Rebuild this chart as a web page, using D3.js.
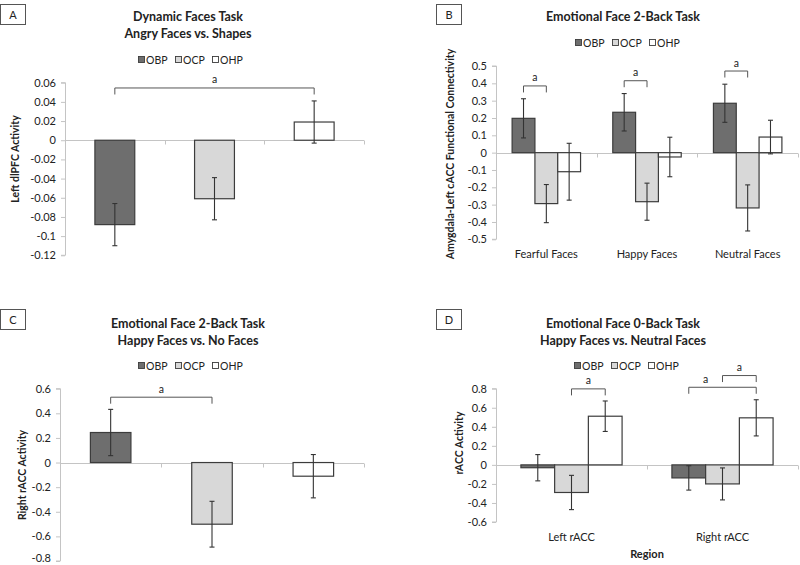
<!DOCTYPE html>
<html><head><meta charset="utf-8">
<script src="https://cdn.jsdelivr.net/npm/d3@7"></script>
<style>
html,body{margin:0;padding:0;background:#fff;}
svg{display:block;font-family:Lato,"Open Sans",sans-serif;}
</style></head>
<body>
<svg id="chart" width="800" height="565"></svg>
<script>
// ---------- DATA ----------
const groups = ["OBP", "OCP", "OHP"];

// Panel A: Dynamic Faces Task, Angry Faces vs. Shapes (Left dlPFC Activity)
const aValues = [-0.088, -0.061, 0.019];
const aErrors = [0.022, 0.022, 0.022];
const aTicks = [0.06, 0.04, 0.02, 0, -0.02, -0.04, -0.06, -0.08, -0.1, -0.12];

// Panel B: Emotional Face 2-Back Task (Amygdala-Left cACC Functional Connectivity)
const bCategories = ["Fearful Faces", "Happy Faces", "Neutral Faces"];
const bOBP = [0.198, 0.233, 0.285];
const bOBPerr = [0.113, 0.108, 0.110];
const bOCP = [-0.294, -0.283, -0.319];
const bOCPerr = [0.110, 0.107, 0.133];
const bOHP = [-0.110, -0.025, 0.090];
const bOHPerr = [0.164, 0.114, 0.097];
const bTicks = [0.5, 0.4, 0.3, 0.2, 0.1, 0, -0.1, -0.2, -0.3, -0.4, -0.5];

// Panel C: Emotional Face 2-Back Task, Happy Faces vs. No Faces (Right rACC Activity)
const cValues = [0.244, -0.501, -0.111];
const cErrors = [0.188, 0.186, 0.176];
const cTicks = [0.6, 0.4, 0.2, 0, -0.2, -0.4, -0.6, -0.8];

// Panel D: Emotional Face 0-Back Task, Happy Faces vs. Neutral Faces (rACC Activity)
const dCategories = ["Left rACC", "Right rACC"];
const dOBP = [-0.030, -0.137];
const dOBPerr = [0.138, 0.128];
const dOCP = [-0.290, -0.200];
const dOCPerr = [0.180, 0.168];
const dOHP = [0.511, 0.494];
const dOHPerr = [0.160, 0.190];
const dTicks = [0.8, 0.6, 0.4, 0.2, 0, -0.2, -0.4, -0.6];

// significance brackets: category index, from group, to group, level (data units)
const aBrackets = [{cat: 0, from: "OBP", toCat: 2, to: "OHP", level: 0.0545}];
const bBrackets = [
  {cat: 0, from: "OBP", toCat: 0, to: "OCP", level: 0.385},
  {cat: 1, from: "OBP", toCat: 1, to: "OCP", level: 0.415},
  {cat: 2, from: "OBP", toCat: 2, to: "OCP", level: 0.471}
];
const cBrackets = [{cat: 0, from: "OBP", toCat: 1, to: "OCP", level: 0.531}];
const dBrackets = [
  {cat: 0, from: "OCP", toCat: 0, to: "OHP", level: 0.798, lab: 0.5},
  {cat: 1, from: "OBP", toCat: 1, to: "OHP", level: 0.815, lab: 0.25},
  {cat: 1, from: "OCP", toCat: 1, to: "OHP", level: 0.938, lab: 0.5}
];

// ---------- STYLE ----------
const fills = {OBP: "#6e6e6e", OCP: "#d8d8d8", OHP: "#ffffff"};
const barStroke = "#3c3c3c";
const axisColor = "#c4c4c4";
const textColor = "#222";

const svg = d3.select("#chart");
const fmt = v => String(+v.toFixed(2));

function panel(cfg) {
  const g = svg.append("g");
  // label box
  g.append("rect").attr("x", cfg.box[0] + 0.5).attr("y", cfg.box[1] + 0.5)
    .attr("width", 25).attr("height", 20).attr("fill", "#fff").attr("stroke", "#555");
  g.append("text").attr("x", cfg.box[0] + 13).attr("y", cfg.box[1] + 14.5)
    .attr("text-anchor", "middle").attr("font-size", 11).attr("fill", textColor).text(cfg.letter);
  // titles
  cfg.titles.forEach((t, i) => {
    g.append("text").attr("x", cfg.titleX).attr("y", cfg.titleY + i * 17)
      .attr("text-anchor", "middle").attr("font-size", 12.5).attr("font-weight", "bold")
      .attr("fill", textColor).text(t);
  });
  // legend
  const leg = g.append("g").attr("transform", `translate(${cfg.legendX},${cfg.legendY})`);
  groups.forEach((k, i) => {
    const lx = i * 37;
    leg.append("rect").attr("x", lx + 0.5).attr("y", -3.5).attr("width", 6).attr("height", 6)
      .attr("fill", fills[k]).attr("stroke", barStroke).attr("stroke-width", 0.9);
    leg.append("text").attr("x", lx + 8).attr("y", 4).attr("font-size", 10.5)
      .attr("fill", textColor).text(k);
  });

  const y = d3.scaleLinear().domain(cfg.yDomain).range(cfg.yRange);
  const x0 = d3.scaleBand().domain(cfg.categories).range(cfg.xRange)
    .paddingInner(cfg.pInner).paddingOuter(cfg.pInner / 2);
  const x1 = d3.scaleBand().domain(groups).range([0, x0.bandwidth()]);
  const step = x0.step();
  const start = cfg.xRange[0];

  // y axis
  const yAxis = d3.axisLeft(y).tickValues(cfg.ticks).tickFormat(fmt).tickSize(4).tickPadding(5);
  const ya = g.append("g").attr("transform", `translate(${cfg.xRange[0]},0)`).call(yAxis);
  ya.select(".domain").attr("stroke", axisColor).attr("d", `M-4,${y(cfg.yDomain[1])}H0.5V${y(cfg.yDomain[0])}H-4`);
  ya.selectAll(".tick line").attr("stroke", axisColor);
  ya.selectAll(".tick text").attr("font-size", 11).attr("fill", textColor)
    .attr("font-family", "Lato,'Open Sans',sans-serif")
    .attr("dy", function(d) { return (y(d) > 558) ? "0.05em" : "0.32em"; });

  // x axis at zero
  const y0 = Math.round(y(0)) + 0.5;
  g.append("line").attr("x1", start).attr("x2", cfg.xRange[1]).attr("y1", y0).attr("y2", y0)
    .attr("stroke", axisColor).attr("stroke-width", 1.2);
  d3.range(1, cfg.categories.length + 1).forEach(i => {
    const tx = Math.round(start + i * step) + 0.5;
    g.append("line").attr("x1", tx).attr("x2", tx).attr("y1", y0).attr("y2", y0 + 4)
      .attr("stroke", axisColor);
  });

  // bars
  const rows = [];
  cfg.categories.forEach((c, ci) => {
    groups.forEach((k, gi) => {
      if (cfg.series[k] && cfg.series[k][ci] != null)
        rows.push({c, k, v: cfg.series[k][ci], e: cfg.errors[k][ci]});
    });
  });
  const bx = d => cfg.single ? x0(d.c) : x0(d.c) + x1(d.k);
  const bw = cfg.single ? x0.bandwidth() : x1.bandwidth();
  g.selectAll(null).data(rows).enter().append("rect")
    .attr("x", d => bx(d)).attr("width", bw)
    .attr("y", d => y(Math.max(0, d.v))).attr("height", d => Math.abs(y(d.v) - y(0)))
    .attr("fill", d => fills[d.k]).attr("stroke", barStroke).attr("stroke-width", 1.2);
  // error bars
  const eb = g.selectAll(null).data(rows).enter().append("g")
    .attr("transform", d => `translate(${bx(d) + bw / 2},0)`);
  eb.append("line").attr("y1", d => y(d.v + d.e)).attr("y2", d => y(d.v - d.e))
    .attr("stroke", "#333").attr("stroke-width", 1.1);
  eb.append("line").attr("x1", -2.5).attr("x2", 2.5).attr("y1", d => y(d.v + d.e)).attr("y2", d => y(d.v + d.e))
    .attr("stroke", "#333").attr("stroke-width", 1.1);
  eb.append("line").attr("x1", -2.5).attr("x2", 2.5).attr("y1", d => y(d.v - d.e)).attr("y2", d => y(d.v - d.e))
    .attr("stroke", "#333").attr("stroke-width", 1.1);

  // brackets
  const center = (ci, k) => cfg.single ? x0(cfg.categories[ci]) + x0.bandwidth() / 2
    : x0(cfg.categories[ci]) + x1(k) + x1.bandwidth() / 2;
  cfg.brackets.forEach(b => {
    const xa = center(b.cat, b.from), xb = center(b.toCat, b.to);
    const yt = y(b.level);
    g.append("path").attr("d", `M${xa},${yt + 6.5}V${yt}H${xb}V${yt + 6.5}`)
      .attr("fill", "none").attr("stroke", "#555").attr("stroke-width", 1);
    const f = b.lab === undefined ? 0.5 : b.lab;
    g.append("text").attr("x", xa + (xb - xa) * f).attr("y", yt - 4.5)
      .attr("text-anchor", "middle").attr("font-size", 10.5).attr("fill", textColor).text("a");
  });

  // category labels
  if (cfg.showCats) {
    cfg.categories.forEach(c => {
      g.append("text").attr("x", x0(c) + x0.bandwidth() / 2).attr("y", cfg.catY)
        .attr("text-anchor", "middle").attr("font-size", 11).attr("fill", textColor).text(c);
    });
  }
  if (cfg.xTitle) {
    g.append("text").attr("x", cfg.xTitle[1]).attr("y", cfg.xTitle[2]).attr("text-anchor", "middle")
      .attr("font-size", 11).attr("font-weight", "bold").attr("fill", textColor).text(cfg.xTitle[0]);
  }
  // y title
  g.append("text").attr("transform", `translate(${cfg.yTitle[1]},${cfg.yTitle[2]}) rotate(-90)`)
    .attr("text-anchor", "middle").attr("font-size", cfg.yTitle[3]).attr("font-weight", "bold")
    .attr("fill", textColor).text(cfg.yTitle[0]);
}

panel({
  letter: "A", box: [0, 4], titles: ["Dynamic Faces Task", "Angry Faces vs. Shapes"], titleX: 188, titleY: 21,
  legendX: 138, legendY: 60, categories: ["c1", "c2", "c3"], single: true,
  series: {OBP: [aValues[0], null, null], OCP: [null, aValues[1], null], OHP: [null, null, aValues[2]]},
  errors: {OBP: [aErrors[0], 0, 0], OCP: [0, aErrors[1], 0], OHP: [0, 0, aErrors[2]]},
  yDomain: [-0.12, 0.06], yRange: [255.3, 82.7], xRange: [65, 364], pInner: 0.6,
  ticks: aTicks, brackets: aBrackets, showCats: false, yTitle: ["Left dlPFC Activity", 19, 159, 10.5]
});
panel({
  letter: "B", box: [436, 4], titles: ["Emotional Face 2-Back Task"], titleX: 623, titleY: 21,
  legendX: 575, legendY: 43, categories: bCategories, single: false,
  series: {OBP: bOBP, OCP: bOCP, OHP: bOHP}, errors: {OBP: bOBPerr, OCP: bOCPerr, OHP: bOHPerr},
  yDomain: [-0.5, 0.5], yRange: [239.3, 66], xRange: [496, 798], pInner: 0.32,
  ticks: bTicks, brackets: bBrackets, showCats: true, catY: 258,
  yTitle: ["Amygdala-Left cACC Functional Connectivity", 454, 154, 10.5]
});
panel({
  letter: "C", box: [0, 309], titles: ["Emotional Face 2-Back Task", "Happy Faces vs. No Faces"], titleX: 188, titleY: 327.5,
  legendX: 138, legendY: 366, categories: ["c1", "c2", "c3"], single: true,
  series: {OBP: [cValues[0], null, null], OCP: [null, cValues[1], null], OHP: [null, null, cValues[2]]},
  errors: {OBP: [cErrors[0], 0, 0], OCP: [0, cErrors[1], 0], OHP: [0, 0, cErrors[2]]},
  yDomain: [-0.8, 0.6], yRange: [561, 388.7], xRange: [60, 364], pInner: 0.6,
  ticks: cTicks, brackets: cBrackets, showCats: false, yTitle: ["Right rACC Activity", 25.5, 475, 10.5]
});
panel({
  letter: "D", box: [436, 309], titles: ["Emotional Face 0-Back Task", "Happy Faces vs. Neutral Faces"], titleX: 623, titleY: 327.5,
  legendX: 574, legendY: 366, categories: dCategories, single: false,
  series: {OBP: dOBP, OCP: dOCP, OHP: dOHP}, errors: {OBP: dOBPerr, OCP: dOCPerr, OHP: dOHPerr},
  yDomain: [-0.6, 0.8], yRange: [522, 388.7], xRange: [496, 798], pInner: 0.33,
  ticks: dTicks, brackets: dBrackets, showCats: true, catY: 540.5, xTitle: ["Region", 647, 557.5],
  yTitle: ["rACC Activity", 463, 443, 10.5]
});
</script>
</body></html>
